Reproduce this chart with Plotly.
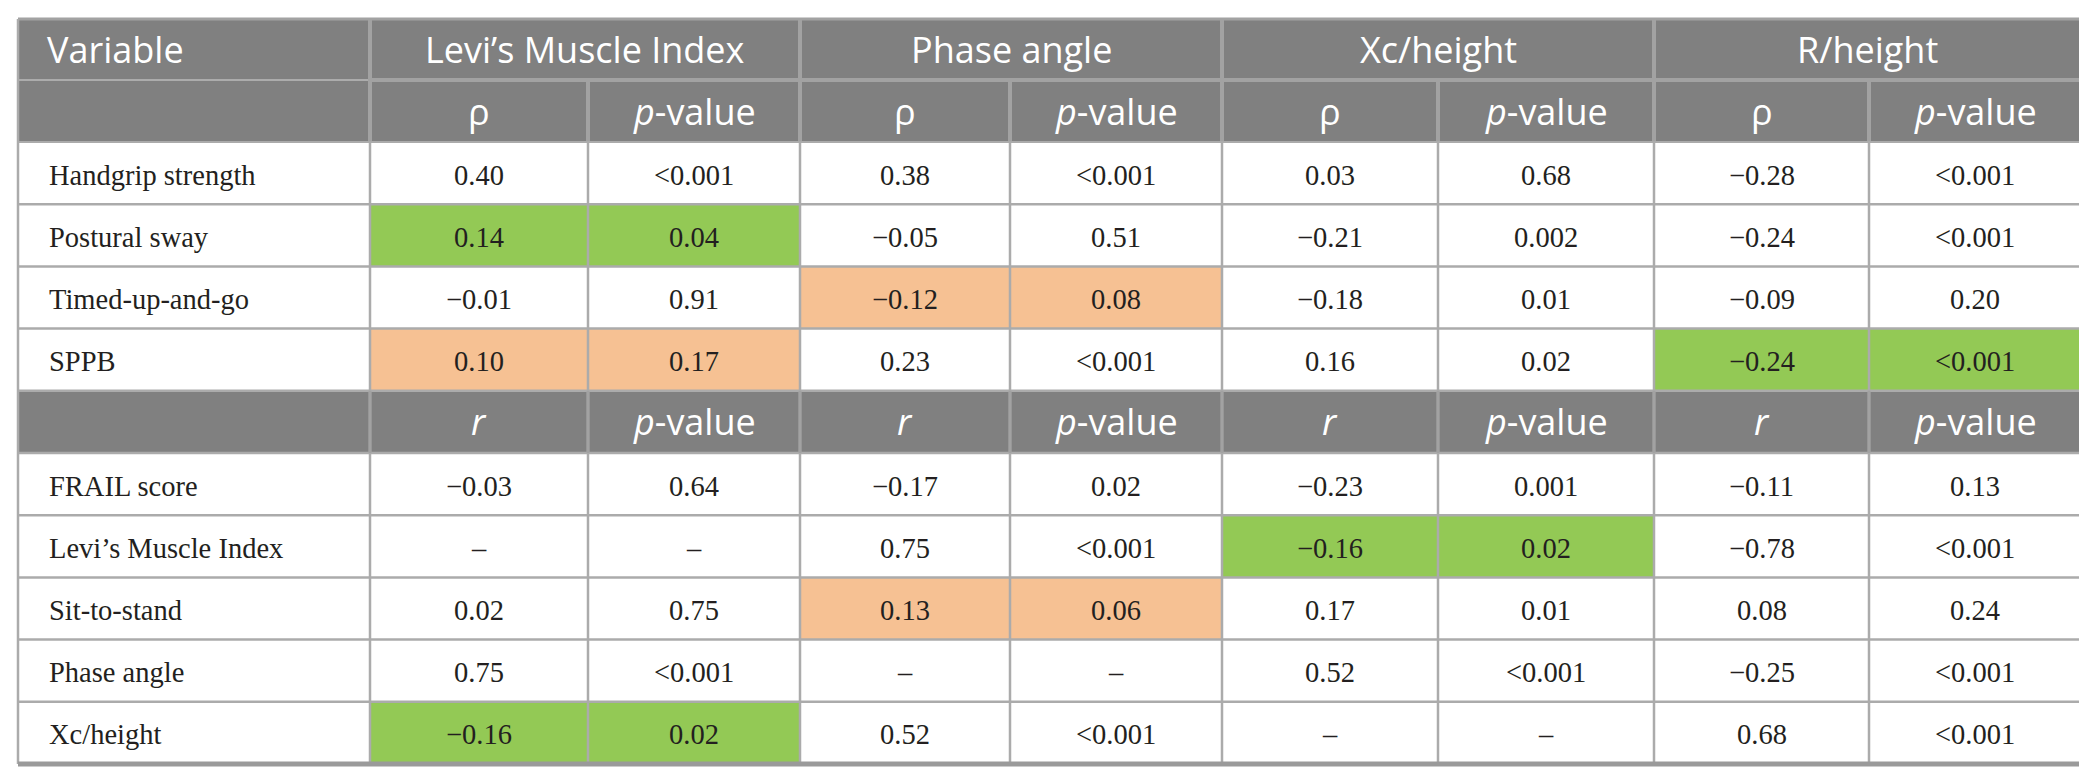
import plotly.graph_objects as go

# ---------------- data ----------------
measures = ["Levi’s Muscle Index", "Phase angle", "Xc/height", "R/height"]
rho_variables = ["Handgrip strength", "Postural sway", "Timed-up-and-go", "SPPB"]
r_variables = ["FRAIL score", "Levi’s Muscle Index", "Sit-to-stand", "Phase angle", "Xc/height"]

# coefficients (rho rows first, then r rows); None = not applicable
lmi_coef = [0.40, 0.14, -0.01, 0.10, -0.03, None, 0.02, 0.75, -0.16]
lmi_p = ["<0.001", "0.04", "0.91", "0.17", "0.64", "–", "0.75", "<0.001", "0.02"]
pa_coef = [0.38, -0.05, -0.12, 0.23, -0.17, 0.75, 0.13, None, 0.52]
pa_p = ["<0.001", "0.51", "0.08", "<0.001", "0.02", "<0.001", "0.06", "–", "<0.001"]
xc_coef = [0.03, -0.21, -0.18, 0.16, -0.23, -0.16, 0.17, 0.52, None]
xc_p = ["0.68", "0.002", "0.01", "0.02", "0.001", "0.02", "0.01", "<0.001", "–"]
rh_coef = [-0.28, -0.24, -0.09, -0.24, -0.11, -0.78, 0.08, -0.25, 0.68]
rh_p = ["<0.001", "<0.001", "0.20", "<0.001", "0.13", "<0.001", "0.24", "<0.001", "<0.001"]

# highlight: g = green, o = orange, "" = none
lmi_hl = ["", "g", "", "o", "", "", "", "", "g"]
pa_hl = ["", "", "o", "", "", "", "o", "", ""]
xc_hl = ["", "", "", "", "", "g", "", "", ""]
rh_hl = ["", "", "", "g", "", "", "", "", ""]

coef_cols = [lmi_coef, pa_coef, xc_coef, rh_coef]
p_cols = [lmi_p, pa_p, xc_p, rh_p]
hl_cols = [lmi_hl, pa_hl, xc_hl, rh_hl]

# ---------------- layout constants ----------------
W, H = 2087, 771
col_edges = [10, 362, 580, 792, 1002, 1214, 1430, 1646, 1861, 2073]
top, h1_bot, h2_bot, bottom = 11, 72, 134, 756
n_body = len(rho_variables) + 1 + len(r_variables)
row_h = (bottom - h2_bot) / n_body

HEAD_BG = "#808080"
HEAD_LINE = "#a2a2a2"
GRID = "#ababab"
GREEN = "#93c955"
ORANGE = "#f6c193"
TXT = "#231f20"
SANS = "Open Sans"
SERIF = "Liberation Serif"
HS = 36
DS = 28.5
DY = 2  # small downward nudge of body text

shapes = []
ann = []


def rect(x0, x1, y0, y1, color):
    shapes.append(dict(type="rect", xref="x", yref="y", x0=x0, x1=x1, y0=y0, y1=y1,
                       fillcolor=color, line=dict(width=0), layer="below"))


def line(x0, x1, y0, y1, color, w):
    shapes.append(dict(type="line", xref="x", yref="y", x0=x0, x1=x1, y0=y0, y1=y1,
                       line=dict(color=color, width=w)))


def text(x, y, s, family, size, color, anchor="center"):
    ann.append(dict(x=x, y=y, xref="x", yref="y", text=s, showarrow=False,
                    xanchor=anchor, yanchor="middle",
                    font=dict(family=family, size=size, color=color)))


def fmt(v):
    if v is None:
        return "–"
    s = f"{abs(v):.2f}"
    return ("−" + s) if v < 0 else s


# header background
rect(col_edges[0], col_edges[-1], top, h2_bot, HEAD_BG)

# body rows
body_rows = []  # (kind, label, data index)
for i, v in enumerate(rho_variables):
    body_rows.append(("data", v, i))
body_rows.append(("rhead", None, None))
for j, v in enumerate(r_variables):
    body_rows.append(("data", v, len(rho_variables) + j))

for k, (kind, label, di) in enumerate(body_rows):
    y0 = h2_bot + k * row_h
    y1 = y0 + row_h
    yc = (y0 + y1) / 2
    if kind == "rhead":
        rect(col_edges[0], col_edges[-1], y0, y1, HEAD_BG)
        for m in range(len(measures)):
            xa = (col_edges[1 + 2 * m] + col_edges[2 + 2 * m]) / 2
            xb = (col_edges[2 + 2 * m] + col_edges[3 + 2 * m]) / 2
            text(xa, yc, "<i>r</i>", SANS, HS, "white")
            text(xb, yc, "<i>p</i>-value", SANS, HS, "white")
        continue
    text(col_edges[0] + 29, yc + DY, label, SERIF, DS, TXT, anchor="left")
    for m in range(len(measures)):
        hl = hl_cols[m][di]
        xa0, xa1, xa2 = col_edges[1 + 2 * m], col_edges[2 + 2 * m], col_edges[3 + 2 * m]
        if hl:
            rect(xa0, xa2, y0, y1, GREEN if hl == "g" else ORANGE)
        text((xa0 + xa1) / 2, yc + DY, fmt(coef_cols[m][di]), SERIF, DS, TXT)
        text((xa1 + xa2) / 2, yc + DY, p_cols[m][di], SERIF, DS, TXT)

# header texts
yc1 = (top + h1_bot) / 2
yc2 = (h1_bot + h2_bot) / 2
text(col_edges[0] + 27, yc1, "Variable", SANS, HS, "white", anchor="left")
for m, name in enumerate(measures):
    xa0, xa1, xa2 = col_edges[1 + 2 * m], col_edges[2 + 2 * m], col_edges[3 + 2 * m]
    text((xa0 + xa2) / 2, yc1, name, SANS, HS, "white")
    text((xa0 + xa1) / 2, yc2, "ρ", SANS, HS, "white")
    text((xa1 + xa2) / 2, yc2, "<i>p</i>-value", SANS, HS, "white")

# body grid lines
for k in range(1, n_body):
    y = h2_bot + k * row_h
    line(col_edges[0], col_edges[-1], y, y, GRID, 2.5)
for x in col_edges[1:-1]:
    line(x, x, h2_bot, bottom, GRID, 2.5)

# header dividers
line(col_edges[0], col_edges[1], h1_bot, h1_bot, "#d8d8d8", 1)
line(col_edges[1], col_edges[-1], h1_bot, h1_bot, HEAD_LINE, 4)
for m in range(len(measures)):
    line(col_edges[1 + 2 * m], col_edges[1 + 2 * m], top, h2_bot, HEAD_LINE, 4)
    line(col_edges[2 + 2 * m], col_edges[2 + 2 * m], h1_bot, h2_bot, HEAD_LINE, 4)
# r-header row dividers
yr0 = h2_bot + len(rho_variables) * row_h
for x in col_edges[1:-1]:
    line(x, x, yr0, yr0 + row_h, HEAD_LINE, 3)

# outer border
line(col_edges[0], col_edges[-1], top, top, HEAD_LINE, 3)
line(col_edges[0], col_edges[0], top, bottom, GRID, 2.5)
line(col_edges[-1], col_edges[-1], top, bottom, HEAD_LINE, 4)
line(col_edges[0], col_edges[-1], h2_bot, h2_bot, GRID, 2)
line(col_edges[0], col_edges[-1], bottom, bottom, "#9a9a9a", 5)

fig = go.Figure()
fig.update_layout(
    width=W, height=H,
    margin=dict(l=0, r=0, t=0, b=0),
    paper_bgcolor="white", plot_bgcolor="white",
    xaxis=dict(range=[0, W], visible=False, fixedrange=True),
    yaxis=dict(range=[H, 0], visible=False, fixedrange=True),
    shapes=shapes, annotations=ann, showlegend=False,
)
fig.write_html("out.html")
